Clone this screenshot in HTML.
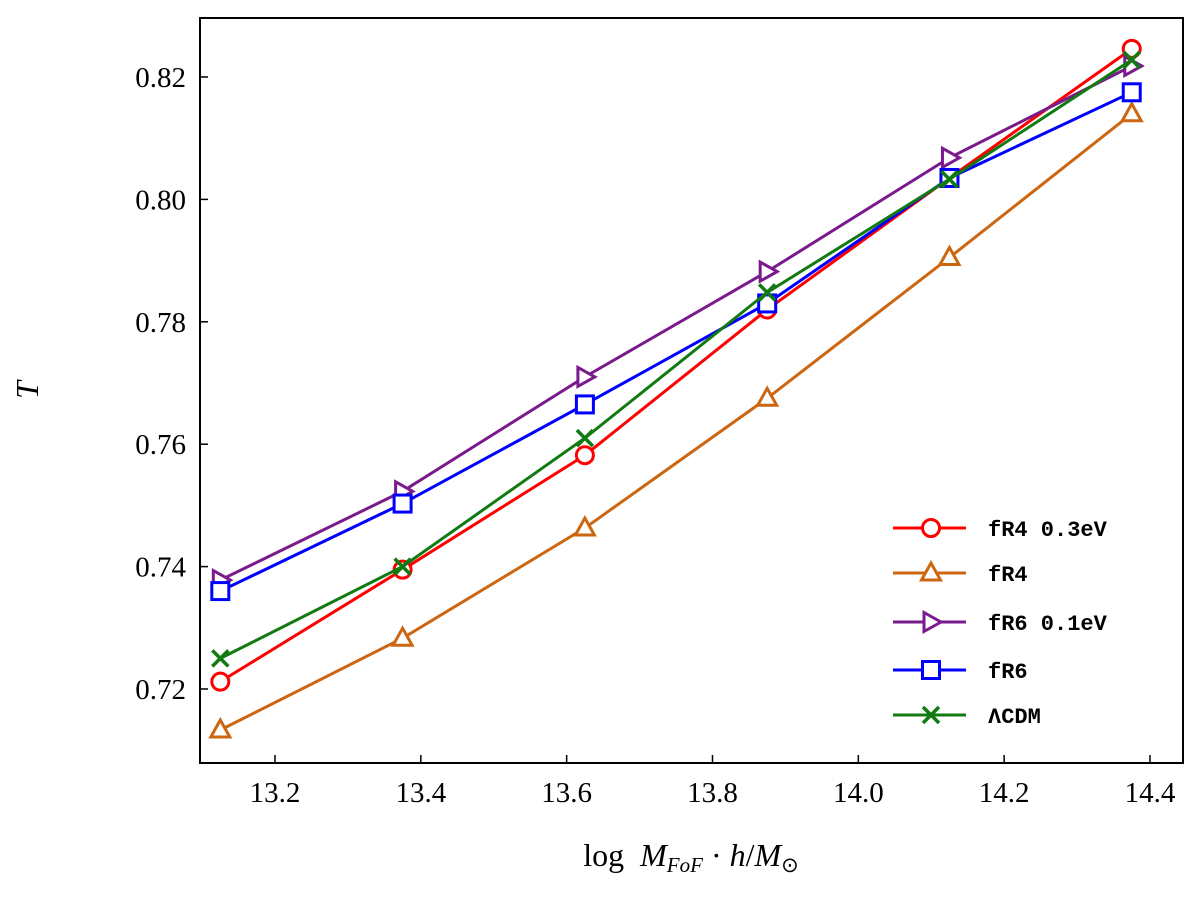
<!DOCTYPE html>
<html><head><meta charset="utf-8"><style>
body{margin:0;background:#fff;width:1200px;height:900px;overflow:hidden}
svg text{font-family:"Liberation Serif",serif;fill:#000}
svg text.mono{font-family:"Liberation Mono",monospace;font-weight:bold}
</style></head><body>
<svg id="chart" width="1200" height="900" xmlns="http://www.w3.org/2000/svg"></svg>
<script>
const categories=[13.125,13.375,13.625,13.875,14.125,14.375];
const seriesNames=["fR4 0.3eV","fR4","fR6 0.1eV","fR6","ΛCDM"];
const fR4_03=[0.7212,0.7395,0.7582,0.7820,0.8035,0.8246];
const fR4=[0.7133,0.7283,0.7463,0.7675,0.7905,0.8140];
const fR6_01=[0.7378,0.7523,0.7710,0.7882,0.8068,0.8218];
const fR6=[0.7360,0.7503,0.7665,0.7830,0.8035,0.8175];
const lcdm=[0.7250,0.7400,0.7610,0.7848,0.8033,0.8228];
const xTicks=[13.2,13.4,13.6,13.8,14.0,14.2,14.4];
const yTicks=[0.72,0.74,0.76,0.78,0.80,0.82];
const NS="http://www.w3.org/2000/svg";
const svg=document.getElementById('chart');
const L=200,R=1183,T=18,B=763;
const xs=v=>275+(v-13.2)/0.2*145.83;
const ys=v=>689-(v-0.72)/0.02*122.4;
function mk(tag,a,parent){const e=document.createElementNS(NS,tag);for(const k in a)e.setAttribute(k,a[k]);(parent||svg).appendChild(e);return e;}
const frame=mk('rect',{x:L,y:T,width:R-L,height:B-T,fill:'none',stroke:'#000','stroke-width':2});


xTicks.forEach(t=>{const x=xs(t);
 const l=mk('line',{x1:x,x2:x,y1:B,y2:B-8,stroke:'#000','stroke-width':1.5});
 
 
 const tx=mk('text',{x:x,y:B+39,'text-anchor':'middle','font-size':29});tx.textContent=t.toFixed(1);
 
 });
yTicks.forEach(t=>{const y=ys(t);
 const l=mk('line',{x1:L,x2:L+8,y1:y,y2:y,stroke:'#000','stroke-width':1.5});
 
 
 const tx=mk('text',{x:L-14,y:y+10,'text-anchor':'end','font-size':29});tx.textContent=t.toFixed(2);
 
 });
const xt=mk('text',{x:691,y:866,'text-anchor':'middle','font-size':32});
xt.innerHTML='log&#160;&#160;<tspan font-style="italic">M</tspan><tspan font-style="italic" font-size="21" dy="6">FoF</tspan><tspan dy="-6"> · </tspan><tspan font-style="italic">h</tspan>/<tspan font-style="italic">M</tspan><tspan font-size="21" dy="6">⊙</tspan>';


const yt=mk('text',{x:38,y:390,'text-anchor':'middle','font-size':32,'font-style':'italic',transform:'rotate(-90 38 390)'});yt.textContent='T';


const colors=['#ff0000','#cc6611','#7a1a8c','#0000ff','#117a11'];
const markers=['o','^','>','s','x'];
const all=[fR4_03,fR4,fR6_01,fR6,lcdm];
function marker(g,m,x,y,c){
 const a={fill:'#fff',stroke:c,'stroke-width':3};
 if(m==='o')mk('circle',Object.assign({cx:x,cy:y,r:8.5},a),g);
 else if(m==='s')mk('rect',Object.assign({x:x-8.5,y:y-8.5,width:17,height:17},a),g);
 else if(m==='^')mk('polygon',Object.assign({points:`${x},${y-10} ${x-9.5},${y+7} ${x+9.5},${y+7}`},a),g);
 else if(m==='>')mk('polygon',Object.assign({points:`${x+10},${y} ${x-7},${y-9.5} ${x-7},${y+9.5}`},a),g);
 else {mk('path',{d:`M${x-8} ${y-8}L${x+8} ${y+8}M${x-8} ${y+8}L${x+8} ${y-8}`,stroke:c,'stroke-width':3.5},g);}
}
all.forEach((d,i)=>{
 const g=mk('g',{});
 
 
 mk('polyline',{points:d.map((v,j)=>xs(categories[j])+','+ys(v)).join(' '),fill:'none',stroke:colors[i],'stroke-width':3},g);
 d.forEach((v,j)=>marker(g,markers[i],xs(categories[j]),ys(v),colors[i]));
});
const legY=[528,573,622,670,715];
seriesNames.forEach((n,i)=>{
 const g=mk('g',{});
 
 
 mk('line',{x1:893,x2:966,y1:legY[i],y2:legY[i],stroke:colors[i],'stroke-width':3},g);
 marker(g,markers[i],931,legY[i],colors[i]);
 const t=mk('text',{x:988,y:legY[i]+8,'font-size':22,'class':'mono'},g);
 t.textContent=n;
});
</script>
</body></html>
